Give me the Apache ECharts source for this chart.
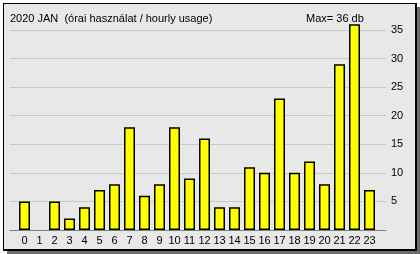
<!DOCTYPE html>
<html>
<head>
<meta charset="utf-8">
<script src="https://cdn.jsdelivr.net/npm/echarts@6/dist/echarts.min.js"></script>
<style>
  html, body { margin: 0; padding: 0; background: #ffffff; }
  #panel { position: absolute; left: 3px; top: 3px; width: 411px; height: 245px;
    border: 1px solid #000; border-right-width: 2px; border-bottom-width: 2px;
    background: #e8e8e8; box-shadow: 4px 4px 0 #6d6d6d; }
  #chart { position: absolute; left: 0; top: 0; width: 420px; height: 254px; }
</style>
</head>
<body>
<div id="panel"></div>
<div id="chart"></div>
<script>
const titleText = '2020 JAN  (órai használat / hourly usage)';
const maxText = 'Max= 36 db';
const hours = ['0','1','2','3','4','5','6','7','8','9','10','11','12','13','14','15','16','17','18','19','20','21','22','23'];
const usage = [5, 0, 5, 2, 4, 7, 8, 18, 6, 8, 18, 9, 16, 4, 4, 11, 10, 23, 10, 12, 8, 29, 36, 7];
const yTicks = [5, 10, 15, 20, 25, 30, 35];

const font = 'Liberation Sans, Arial, sans-serif';
const chart = echarts.init(document.getElementById('chart'), null, { renderer: 'canvas' });
chart.setOption({
  backgroundColor: 'transparent',
  animation: false,
  title: [
    { text: titleText, left: 5, top: 8, textStyle: { fontSize: 11, fontWeight: 'normal', color: '#000', fontFamily: font } },
    { text: maxText, left: 301, top: 8, textStyle: { fontSize: 11, fontWeight: 'normal', color: '#000', fontFamily: font } }
  ],
  grid: [
    { left: 10, right: 34, top: 30, bottom: 24 },
    { left: 17, right: 43, top: 24.29, bottom: 24 }
  ],
  xAxis: [
    { gridIndex: 0, type: 'category', data: hours, boundaryGap: true,
      axisLine: { show: true, lineStyle: { color: '#808080', width: 1 } },
      axisTick: { show: false }, axisLabel: { show: false }, splitLine: { show: false } },
    { gridIndex: 1, type: 'category', data: hours, boundaryGap: true,
      axisLine: { show: false }, axisTick: { show: false },
      axisLabel: { show: true, interval: 0, margin: 5, color: '#000', fontSize: 11, fontFamily: font } }
  ],
  yAxis: [
    { gridIndex: 0, type: 'value', position: 'right', min: 0, max: yTicks[yTicks.length - 1], interval: 5,
      axisLine: { show: false }, axisTick: { show: false },
      axisLabel: { margin: 5, color: '#000', fontSize: 11, fontFamily: font,
        formatter: v => (yTicks.indexOf(v) >= 0 ? String(v) : '') },
      splitLine: { show: true, lineStyle: { color: '#c8c8c8', width: 1 } } },
    { gridIndex: 1, type: 'value', min: 0, max: 36, show: false, splitLine: { show: false } }
  ],
  series: [
    { type: 'bar', xAxisIndex: 1, yAxisIndex: 1,
      data: usage.map(v => (v === 0 ? '-' : v)), barWidth: 11,
      itemStyle: { color: '#ffff00', borderColor: '#000', borderWidth: 1.5 } }
  ]
});
</script>
</body>
</html>
